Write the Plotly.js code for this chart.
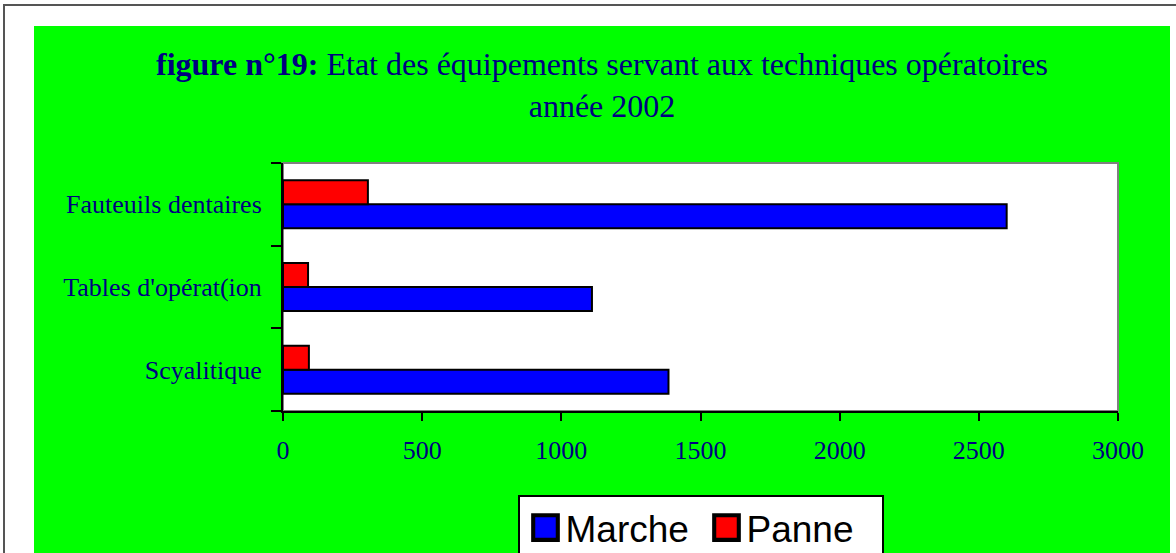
<!DOCTYPE html>
<html>
<head>
<meta charset="utf-8">
<script src="https://cdn.plot.ly/plotly-3.0.1.min.js"></script>
<style>
  html, body { margin: 0; padding: 0; background: #ffffff; width: 1176px; height: 553px; overflow: hidden; }
  #frame { position: absolute; left: 3px; top: 4px; width: 1180px; height: 560px; border-top: 2px solid #555555; border-left: 2px solid #555555; }
  #chart { position: absolute; left: 34px; top: 26px; width: 1136px; height: 527px; }
</style>
</head>
<body>
<div id="frame"></div>
<div id="chart"></div>
<script>
const categories = ['Scyalitique', "Tables d'opérat(ion", 'Fauteuils dentaires'];
const seriesNames = ['Marche', 'Panne'];
const marche = [1385, 1110, 2600];
const panne = [93, 90, 305];
const xTicks = [0, 500, 1000, 1500, 2000, 2500, 3000];

const navy = '#000080';
const serif = '"Liberation Serif", "Times New Roman", serif';

const traces = [
  { type: 'bar', orientation: 'h', name: seriesNames[0], y: categories, x: marche,
    marker: { color: '#0000FF', line: { color: '#000000', width: 2 } }, hoverinfo: 'x+name' },
  { type: 'bar', orientation: 'h', name: seriesNames[1], y: categories, x: panne,
    marker: { color: '#FF0000', line: { color: '#000000', width: 2 } }, hoverinfo: 'x+name' }
];

const layout = {
  width: 1136, height: 527,
  paper_bgcolor: '#00FF00',
  plot_bgcolor: 'rgba(0,0,0,0)',
  margin: { l: 249, r: 52, t: 137, b: 142, autoexpand: false },
  barmode: 'group', bargap: 0.42, bargroupgap: 0,
  title: {
    text: '<b>figure n°19:</b> Etat des équipements servant aux techniques opératoires<br>année 2002',
    font: { family: serif, size: 32, color: navy },
    x: 0.5, xanchor: 'center', xref: 'container',
    y: 0.907, yanchor: 'top', yref: 'container'
  },
  xaxis: {
    range: [0, 3000], tickvals: xTicks, ticktext: xTicks.map(String),
    ticks: 'outside', ticklen: 8, tickwidth: 2, tickcolor: '#000000',
    showline: true, linecolor: '#000000', linewidth: 2,
    showgrid: false, zeroline: false,
    tickfont: { family: serif, size: 26, color: navy },
    ticklabelstandoff: 7, fixedrange: true
  },
  yaxis: {
    type: 'category', tickson: 'boundaries',
    ticks: 'outside', ticklen: 10, tickwidth: 2, tickcolor: '#000000',
    showline: true, linecolor: '#000000', linewidth: 2,
    showgrid: false, zeroline: false,
    tickfont: { family: serif, size: 26, color: navy },
    ticklabelstandoff: 14, fixedrange: true
  },
  shapes: [
    { type: 'rect', xref: 'paper', yref: 'paper', x0: 0, x1: 1, y0: 0, y1: 1,
      fillcolor: '#FFFFFF', line: { color: '#808080', width: 2 }, layer: 'below' }
  ],
  showlegend: true,
  legend: {
    orientation: 'h', x: 0.5, xanchor: 'center', y: -0.339, yanchor: 'top',
    bgcolor: '#FFFFFF', bordercolor: '#000000', borderwidth: 2,
    font: { family: '"Liberation Sans", Arial, sans-serif', size: 37, color: '#000000' },
    entrywidth: 130, entrywidthmode: 'pixels', indentation: 6,
    traceorder: 'normal', itemclick: false, itemdoubleclick: false
  }
};

Plotly.newPlot('chart', traces, layout, { displayModeBar: false }).then(function (gd) {
  gd.querySelectorAll('.legend .legendpoints path').forEach(function (p) {
    const t = p.getAttribute('transform') || '';
    p.setAttribute('transform', t + ' scale(2.05)');
  });
});
</script>
</body>
</html>
